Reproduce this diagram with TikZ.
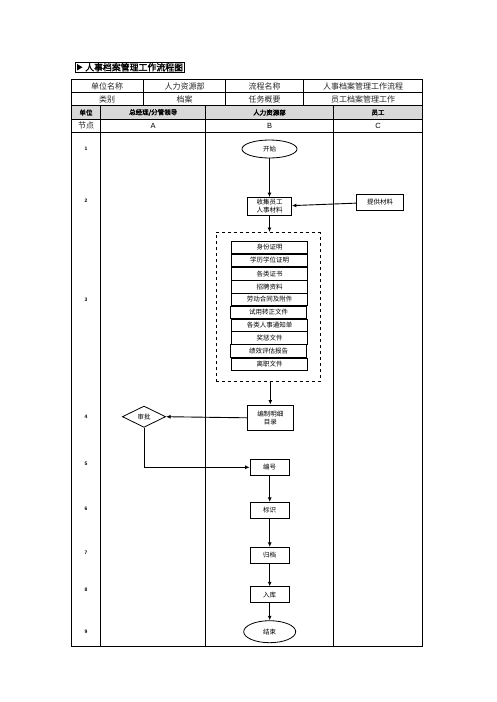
\documentclass[tikz,border=0pt]{standalone}
\usepackage{fontspec}
\setmainfont{Noto Sans CJK SC}
\newfontfamily\cjkbold{Noto Sans CJK SC}[FakeBold=2]
\newfontfamily\numfont{Liberation Sans}
\usetikzlibrary{shapes.geometric,arrows.meta}
\begin{document}
\begin{tikzpicture}[x=1pt,y=-1pt,
  tline/.style={line width=0.6pt},
  bline/.style={line width=0.9pt},
  cell/.style={font=\fontsize{8}{9}\selectfont, text=black!85},
  hcell/.style={font=\cjkbold\fontsize{6.5}{7}\selectfont},
  rownum/.style={font=\numfont\bfseries\fontsize{5}{6}\selectfont},
  boxA/.style={draw, line width=0.8pt, font=\fontsize{6.5}{8}\selectfont, align=center, inner sep=0pt},
  item/.style={draw, line width=0.6pt, minimum width=75.6pt, minimum height=12.7pt, inner sep=0pt, font=\fontsize{6.5}{7}\selectfont},
  arr/.style={-{Latex[length=4.5pt,width=4pt]}, line width=0.9pt}
]
\useasboundingbox (0,0) rectangle (496,702);
% title
\node[draw, line width=0.8pt, minimum width=109pt, minimum height=9.5pt, inner sep=0pt] (titlebox) at (129.5,67.2) {};
\fill (77,63.9) -- (82.5,67.2) -- (77,70.5) -- cycle;
\node[font=\cjkbold\fontsize{8.9}{9}\selectfont, anchor=west, inner sep=0pt] (title) at (85,67.3) {人事档案管理工作流程图};
% top table
\fill[black!15] (71,105.7) rectangle (422.7,119.3);
\draw[tline] (71,79) rectangle (422.7,132.3);
\draw[tline] (71,92.7) -- (422.7,92.7);
\draw[tline] (71,105.7) -- (422.7,105.7);
\draw[tline] (71,119.3) -- (422.7,119.3);
\draw[tline] (143.3,79) -- (143.3,105.7);
\draw[tline] (225.7,79) -- (225.7,105.7);
\draw[tline] (303.3,79) -- (303.3,105.7);
\draw[tline] (100.7,105.7) -- (100.7,132.3);
\draw[tline] (205.7,105.7) -- (205.7,132.3);
\draw[tline] (333.3,105.7) -- (333.3,132.3);
\node[cell] (c11) at (107,86) {单位名称};
\node[cell] (c12) at (184.5,86) {人力资源部};
\node[cell] (c13) at (264.5,86) {流程名称};
\node[cell] (c14) at (363,86) {人事档案管理工作流程};
\node[cell] (c21) at (107,99.2) {类别};
\node[cell] (c22) at (184.5,99.2) {档案};
\node[cell] (c23) at (264.5,99.2) {任务概要};
\node[cell] (c24) at (363,99.2) {员工档案管理工作};
\node[hcell] (h1) at (86,112.5) {单位};
\node[hcell] (h2) at (153.2,112.5) {总经理/分管领导};
\node[hcell] (h3) at (269.5,112.5) {人力资源部};
\node[hcell] (h4) at (378,112.5) {员工};
\node[cell] (n1) at (86,125.8) {节点};
\node[font=\numfont\fontsize{7.5}{8}\selectfont] (nA) at (153.2,125.8) {A};
\node[font=\numfont\fontsize{7.5}{8}\selectfont] (nB) at (269.5,125.8) {B};
\node[font=\numfont\fontsize{7.5}{8}\selectfont] (nC) at (378,125.8) {C};
% body
\draw[bline] (71,132.3) rectangle (422.7,646);
\draw[bline] (100.7,132.3) -- (100.7,646);
\draw[bline] (205.7,132.3) -- (205.7,646);
\draw[bline] (333.3,132.3) -- (333.3,646);
\node[rownum] (r1) at (86,148.3) {1};
\node[rownum] (r2) at (86,200.7) {2};
\node[rownum] (r3) at (86,300) {3};
\node[rownum] (r4) at (86,416.7) {4};
\node[rownum] (r5) at (86,463.3) {5};
\node[rownum] (r6) at (86,508.3) {6};
\node[rownum] (r7) at (86,552.7) {7};
\node[rownum] (r8) at (86,590) {8};
\node[rownum] (r9) at (86,631.7) {9};
% flow
\node[boxA, ellipse, minimum width=55pt, minimum height=18pt] (start) at (269.5,149) {开始};
\node[boxA, minimum width=44pt, minimum height=18pt] (collect) at (269.5,206.5) {收集员工\\人事材料};
\node[boxA, minimum width=46.6pt, minimum height=15.7pt] (provide) at (380,202.2) {提供材料};
\node[draw, dashed, line width=0.6pt, minimum width=104pt, minimum height=149.4pt, inner sep=0pt] (docs) at (268,307) {};
\node[item] (d1) at (269.5,247.4) {身份证明};
\node[item] (d2) at (269.5,260.4) {学历学位证明};
\node[item] (d3) at (269.5,273.6) {各类证书};
\node[item] (d4) at (269.5,286.7) {招聘资料};
\node[item] (d5) at (269.5,299.4) {劳动合同及附件};
\node[item] (d6) at (268.5,312.4) {试用转正文件};
\node[item] (d7) at (269.5,325.4) {各类人事通知单};
\node[item] (d8) at (269.5,338) {奖惩文件};
\node[item] (d9) at (268.5,351) {绩效评估报告};
\node[item] (d10) at (269.5,364.3) {离职文件};
\node[boxA, minimum width=46pt, minimum height=25.7pt] (compile) at (270.3,417.8) {编制明细\\目录};
\node[boxA, diamond, aspect=2.03, minimum width=43.3pt, minimum height=21.3pt] (approve) at (144,416.7) {审批};
\node[boxA, minimum width=39.3pt, minimum height=16pt] (number) at (269.7,467.3) {编号};
\node[boxA, minimum width=39.3pt, minimum height=16pt] (mark) at (269.7,510.3) {标识};
\node[boxA, minimum width=39.3pt, minimum height=16pt] (archive) at (269.7,555.3) {归档};
\node[boxA, minimum width=39.3pt, minimum height=16pt] (store) at (269.7,594.7) {入库};
\node[boxA, ellipse, minimum width=52pt, minimum height=22pt] (end) at (269.7,631.7) {结束};
% connectors
\draw[arr] (start) -- (collect);
\draw[arr] (provide) -- (collect);
\draw[arr] (collect.south) -- (collect.south |- docs.north);
\draw[arr] (docs.south -| compile.north) -- (compile.north);
\draw[arr] (compile.west) -- (approve.east);
\draw[arr] (approve.south) |- (number.west);
\draw[arr] (number) -- (mark);
\draw[arr] (mark) -- (archive);
\draw[arr] (archive) -- (store);
\draw[arr] (store) -- (end);
\end{tikzpicture}
\end{document}
